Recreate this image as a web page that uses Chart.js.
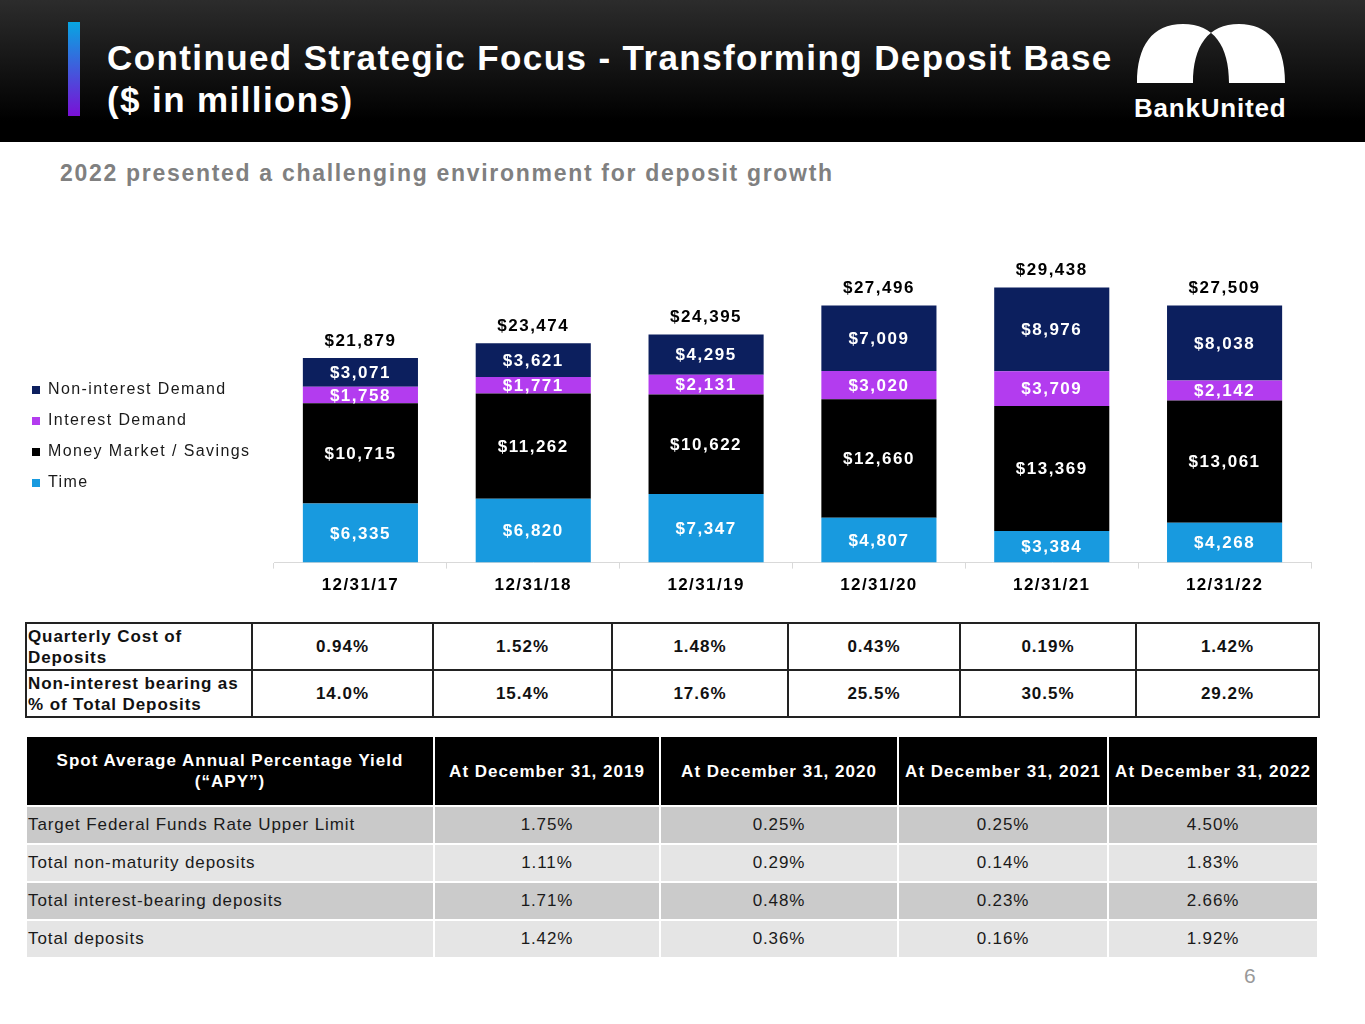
<!DOCTYPE html>
<html>
<head>
<meta charset="utf-8">
<script src="https://cdn.jsdelivr.net/npm/chart.js@4.4.1/dist/chart.umd.min.js"></script>
<style>
  body { margin: 0; width: 1365px; height: 1024px; background: #fff; font-family: Arial, "Liberation Sans", sans-serif; position: relative; overflow: hidden; }
  .header { position: absolute; left: 0; top: 0; width: 1365px; height: 142px; background: linear-gradient(#2c2c2c, #000 85%); }
  .accent { position: absolute; left: 68px; top: 22px; width: 12px; height: 94px; background: linear-gradient(#07a6e2, #7a10d6); }
  .title { position: absolute; left: 107px; top: 37px; color: #fff; font-weight: bold; font-size: 35px; line-height: 42px; letter-spacing: 1.4px; }
  .brand { position: absolute; left: 1134px; top: 93px; color: #fff; font-weight: bold; font-size: 26px; letter-spacing: 0.8px; }
  .subtitle { position: absolute; left: 60px; top: 160px; color: #808080; font-weight: bold; font-size: 23px; letter-spacing: 1.7px; }
  #chartBox { position: absolute; left: 17px; top: 262px; width: 1300px; height: 350px; }
  table { position: absolute; font-family: Arial, "Liberation Sans", sans-serif; table-layout: fixed; }
  #costTable { left: 25px; top: 622px; width: 1293px; border-collapse: collapse; }
  #costTable td { border: 2px solid #222; font-weight: bold; font-size: 17px; letter-spacing: 1px; color: #111; text-align: center; height: 45px; padding: 0; }
  #costTable td.lbl { text-align: left; line-height: 21px; padding-left: 1px; letter-spacing: 0.9px; }
  #apyTable { left: 25px; top: 735px; width: 1294px; border-collapse: separate; border-spacing: 2px; background: #fff; }
  #apyTable th { background: #000; color: #fff; font-size: 17px; font-weight: bold; letter-spacing: 1px; height: 68px; padding: 0; line-height: 21px; }
  #apyTable td { font-size: 17px; letter-spacing: 0.9px; color: #1a1a1a; text-align: center; height: 36px; padding: 0; }
  #apyTable td.lbl { text-align: left; padding-left: 1px; }
  .pg { position: absolute; left: 1244px; top: 964px; color: #999; font-size: 21px; }
</style>
</head>
<body>
<div class="header"></div>
<div class="accent"></div>
<div class="title">Continued Strategic Focus - Transforming Deposit Base<br>($ in millions)</div>
<svg style="position:absolute;left:0;top:0" width="1365" height="142">
  <path d="M1137,83 C1137,46 1152,24 1183,24 C1214,24 1229,46 1229,83 Z M1193,83 C1193,46 1208,24 1239,24 C1270,24 1285,46 1285,83 Z" fill="#fff" fill-rule="evenodd"/>
</svg>
<div class="brand">BankUnited</div>
<div class="subtitle">2022 presented a challenging environment for deposit growth</div>
<div id="chartBox"><canvas id="depositChart"></canvas></div>
<table id="costTable"></table>
<table id="apyTable"></table>
<div class="pg">6</div>
<script>
const categories = ['12/31/17', '12/31/18', '12/31/19', '12/31/20', '12/31/21', '12/31/22'];
const timeValues = [6335, 6820, 7347, 4807, 3384, 4268];
const moneyMarketValues = [10715, 11262, 10622, 12660, 13369, 13061];
const interestDemandValues = [1758, 1771, 2131, 3020, 3709, 2142];
const nonInterestDemandValues = [3071, 3621, 4295, 7009, 8976, 8038];
const totalValues = [21879, 23474, 24395, 27496, 29438, 27509];

const costOfDeposits = ['0.94%', '1.52%', '1.48%', '0.43%', '0.19%', '1.42%'];
const nonInterestShare = ['14.0%', '15.4%', '17.6%', '25.5%', '30.5%', '29.2%'];

const apyHeaders = ['At December 31, 2019', 'At December 31, 2020', 'At December 31, 2021', 'At December 31, 2022'];
const apyRowLabels = ['Target Federal Funds Rate Upper Limit', 'Total non-maturity deposits', 'Total interest-bearing deposits', 'Total deposits'];
const apyFedFunds = ['1.75%', '0.25%', '0.25%', '4.50%'];
const apyNonMaturity = ['1.11%', '0.29%', '0.14%', '1.83%'];
const apyInterestBearing = ['1.71%', '0.48%', '0.23%', '2.66%'];
const apyTotal = ['1.42%', '0.36%', '0.16%', '1.92%'];

const fmt = v => '$' + v.toLocaleString('en-US');

// value labels inside segments + totals on top
const labelPlugin = {
    id: 'segLabels',
    beforeLayout(chart) {
        const lg = chart.legend;
        if (lg && !lg._wide) {
            const orig = lg.fit;
            lg.fit = function () { orig.call(this); this.width = 257; };
            lg._wide = true;
        }
    },
    beforeDraw(chart) {
        chart.ctx.letterSpacing = '1.4px';
    },
    afterDatasetsDraw(chart) {
        const ctx = chart.ctx;
        ctx.save();
        ctx.letterSpacing = '1.5px';
        ctx.textAlign = 'center';
        ctx.textBaseline = 'middle';
        ctx.font = 'bold 17px Arial, "Liberation Sans"';
        ctx.fillStyle = '#fff';
        chart.data.datasets.forEach((ds, i) => {
            chart.getDatasetMeta(i).data.forEach((bar, j) => {
                ctx.fillText(fmt(ds.data[j]), bar.x, (bar.y + bar.base) / 2 + 1);
            });
        });
        const top = chart.getDatasetMeta(chart.data.datasets.length - 1).data;
        ctx.fillStyle = '#000';
        top.forEach((bar, j) => {
            ctx.fillText(fmt(totalValues[j]), bar.x, bar.y - 17);
        });
        ctx.restore();
    }
};

new Chart(document.getElementById('depositChart'), {
    type: 'bar',
    data: {
        labels: categories,
        datasets: [
            { label: 'Time', data: timeValues, backgroundColor: '#189ADF' },
            { label: 'Money Market / Savings', data: moneyMarketValues, backgroundColor: '#000000' },
            { label: 'Interest Demand', data: interestDemandValues, backgroundColor: '#B33CEF' },
            { label: 'Non-interest Demand', data: nonInterestDemandValues, backgroundColor: '#0C1F5E' }
        ]
    },
    options: {
        responsive: true,
        maintainAspectRatio: false,
        animation: false,
        categoryPercentage: 1,
        barPercentage: 0.666,
        layout: { padding: { top: 8, right: 6, bottom: 9, left: 0 } },
        plugins: {
            tooltip: { enabled: false },
            legend: {
                position: 'left',
                reverse: true,
                labels: { boxWidth: 8, boxHeight: 8, padding: 15, color: '#1a1a1a', font: { family: 'Arial, "Liberation Sans"', size: 16 } }
            }
        },
        scales: {
            x: {
                stacked: true,
                grid: { drawOnChartArea: false, drawTicks: true, tickLength: 6, color: '#d9d9d9' },
                border: { color: '#d9d9d9' },
                ticks: { padding: 7, color: '#000', font: { family: 'Arial, "Liberation Sans"', size: 17, weight: 'bold' } }
            },
            y: { stacked: true, display: false, min: 0, max: 31300 }
        }
    },
    plugins: [labelPlugin]
});

// table 1: cost of deposits
const costWidths = [226, 181, 179, 176, 172, 176, 183];
const costTable = document.getElementById('costTable');
const cg1 = document.createElement('colgroup');
costWidths.forEach(w => { const c = document.createElement('col'); c.style.width = w + 'px'; cg1.appendChild(c); });
costTable.appendChild(cg1);
[['Quarterly Cost of Deposits', costOfDeposits], ['Non-interest bearing as % of Total Deposits', nonInterestShare]].forEach(([label, vals]) => {
    const tr = costTable.insertRow();
    const l = tr.insertCell();
    l.className = 'lbl';
    l.textContent = label;
    vals.forEach(v => {
        const c = tr.insertCell();
        c.textContent = v;
    });
});

// table 2: spot APY
const apyWidths = [406, 224, 236, 208, 208];
const apyTable = document.getElementById('apyTable');
const cg2 = document.createElement('colgroup');
apyWidths.forEach(w => { const c = document.createElement('col'); c.style.width = w + 'px'; cg2.appendChild(c); });
apyTable.appendChild(cg2);
const hr = apyTable.insertRow();
const h0 = document.createElement('th');
h0.innerHTML = 'Spot Average Annual Percentage Yield<br>(“APY”)';
hr.appendChild(h0);
apyHeaders.forEach(h => {
    const th = document.createElement('th');
    th.textContent = h;
    hr.appendChild(th);
});
const rowColors = ['#c9c9c9', '#e5e5e5', '#cbcbcb', '#e5e5e5'];
[apyFedFunds, apyNonMaturity, apyInterestBearing, apyTotal].forEach((vals, r) => {
    const tr = apyTable.insertRow();
    const l = tr.insertCell();
    l.className = 'lbl';
    l.textContent = apyRowLabels[r];
    l.style.background = rowColors[r];
    vals.forEach(v => {
        const c = tr.insertCell();
        c.textContent = v;
        c.style.background = rowColors[r];
    });
});
</script>
</body>
</html>
